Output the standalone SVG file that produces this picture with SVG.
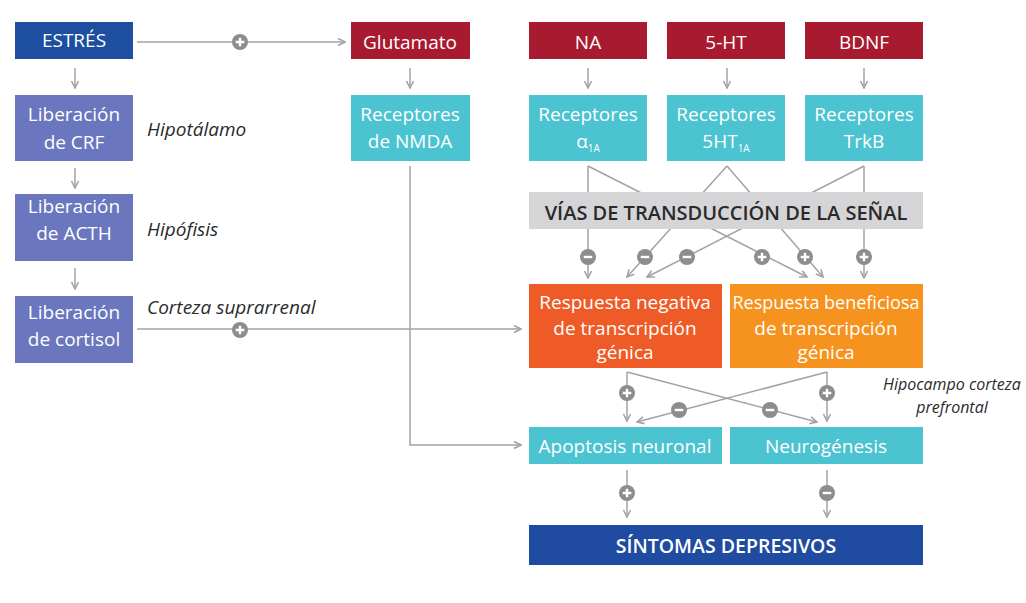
<svg xmlns="http://www.w3.org/2000/svg" xmlns:xlink="http://www.w3.org/1999/xlink" width="1026" height="603" viewBox="0 0 1026 603">
<style>
.t{font-family:"Open Sans","Liberation Sans",sans-serif;font-size:19px;font-weight:500;fill:#fff;text-anchor:middle}
.b{font-weight:600}
.lab{font-family:"Open Sans","Liberation Sans",sans-serif;font-size:19px;font-style:italic;fill:#2b2b2b}
.c{fill:none;stroke:#a3a3a5;stroke-width:1.5}
.a{marker-end:url(#ah)}
.blue{fill:#1d4ea0}
.purp{fill:#6a76bd}
.red{fill:#a81a30}
.cyan{fill:#4cc3d1}
</style>
<defs>
<marker id="ah" viewBox="0 0 10 10" refX="9" refY="5" markerWidth="10" markerHeight="10" orient="auto" markerUnits="userSpaceOnUse">
<path d="M2,1.5 L9,5 L2,8.5" fill="none" stroke="#a3a3a5" stroke-width="1.6"/>
</marker>
<g id="plus"><circle r="8" fill="#8d8d8f"/><path d="M-4.3,0H4.3M0,-4.3V4.3" stroke="#fff" stroke-width="2.4"/></g>
<g id="minus"><circle r="8" fill="#8d8d8f"/><path d="M-4.3,0H4.3" stroke="#fff" stroke-width="2.4"/></g>
</defs>
<rect width="1026" height="603" fill="#fff"/>

<g id="connectors">
<path class="c a" d="M137,42H345"/>
<path class="c a" d="M75,68V88"/>
<path class="c a" d="M75,168V188"/>
<path class="c a" d="M75,268V289"/>
<path class="c a" d="M137,329H521"/>
<path class="c a" d="M410,68V88"/>
<path class="c a" d="M588,68V88"/>
<path class="c a" d="M727,68V88"/>
<path class="c a" d="M864,68V88"/>
<path class="c a" d="M410,166V445H521"/>
<path class="c a" d="M588,166V278"/>
<path class="c a" d="M588,166L807,277"/>
<path class="c a" d="M727,166L627,277"/>
<path class="c a" d="M727,166L823,277"/>
<path class="c a" d="M864,166L647,277"/>
<path class="c a" d="M864,166V278"/>
<path class="c a" d="M627,372V421"/>
<path class="c a" d="M627,372L817,422"/>
<path class="c a" d="M827,372V421"/>
<path class="c a" d="M827,372L637,422"/>
<path class="c a" d="M627,470V517"/>
<path class="c a" d="M827,470V517"/>
</g>

<g id="via"><rect x="529" y="192" width="394" height="37" fill="#d5d5d7"/>
<text x="726" y="220" class="t b" style="fill:#2a2a2a;font-size:20px">VÍAS DE TRANSDUCCIÓN DE LA SEÑAL</text></g>

<g id="signs">
<use href="#plus" x="240" y="42"/>
<use href="#plus" x="240" y="330"/>
<use href="#minus" x="588" y="257"/>
<use href="#minus" x="645" y="257"/>
<use href="#minus" x="687" y="257"/>
<use href="#plus" x="762" y="257"/>
<use href="#plus" x="805" y="257"/>
<use href="#plus" x="864" y="257"/>
<use href="#plus" x="627" y="393"/>
<use href="#minus" x="679" y="410"/>
<use href="#minus" x="770" y="410"/>
<use href="#plus" x="827" y="393"/>
<use href="#plus" x="627" y="493"/>
<use href="#minus" x="827" y="493"/>
</g>

<g id="estres"><rect class="blue" x="15" y="22" width="118" height="37"/><text class="t" x="74" y="47">ESTRÉS</text></g>
<g id="crf"><rect class="purp" x="15" y="95" width="118" height="66"/><text class="t" x="74" y="121">Liberación</text><text class="t" x="74" y="149">de CRF</text></g>
<g id="acth"><rect class="purp" x="15" y="194" width="118" height="67"/><text class="t" x="74" y="213">Liberación</text><text class="t" x="74" y="240">de ACTH</text></g>
<g id="cortisol"><rect class="purp" x="15" y="296" width="118" height="67"/><text class="t" x="74" y="319">Liberación</text><text class="t" x="74" y="346">de cortisol</text></g>

<g id="labels">
<text class="lab" x="147" y="136">Hipotálamo</text>
<text class="lab" x="147" y="236">Hipófisis</text>
<text class="lab" x="147" y="314">Corteza suprarrenal</text>
<text class="lab" x="952" y="390" style="font-size:16px;text-anchor:middle">Hipocampo corteza</text>
<text class="lab" x="952" y="413" style="font-size:16px;text-anchor:middle">prefrontal</text>
</g>

<g id="glutamato"><rect class="red" x="351" y="22" width="119" height="37"/><text class="t" x="410" y="49">Glutamato</text></g>
<g id="nmda"><rect class="cyan" x="351" y="95" width="119" height="66"/><text class="t" x="410" y="121">Receptores</text><text class="t" x="410" y="148">de NMDA</text></g>

<g id="na"><rect class="red" x="529" y="22" width="118" height="37"/><text class="t" x="588" y="49">NA</text></g>
<g id="ht"><rect class="red" x="667" y="22" width="118" height="37"/><text class="t" x="726" y="49">5-HT</text></g>
<g id="bdnf"><rect class="red" x="805" y="22" width="118" height="37"/><text class="t" x="864" y="49">BDNF</text></g>

<g id="ra"><rect class="cyan" x="529" y="95" width="118" height="66"/><text class="t" x="588" y="121">Receptores</text><text class="t" x="588" y="148">α<tspan font-size="10" dy="4">1A</tspan></text></g>
<g id="rht"><rect class="cyan" x="667" y="95" width="118" height="66"/><text class="t" x="726" y="121">Receptores</text><text class="t" x="726" y="148">5HT<tspan font-size="10" dy="4">1A</tspan></text></g>
<g id="rtrkb"><rect class="cyan" x="805" y="95" width="118" height="66"/><text class="t" x="864" y="121">Receptores</text><text class="t" x="864" y="148">TrkB</text></g>

<g id="neg"><rect x="529" y="284" width="193" height="84" fill="#ef5b26"/><text class="t" x="625" y="309">Respuesta negativa</text><text class="t" x="625" y="335">de transcripción</text><text class="t" x="625" y="359">génica</text></g>
<g id="ben"><rect x="730" y="284" width="193" height="84" fill="#f6921e"/><text class="t" x="826" y="309" style="font-size:18px">Respuesta beneficiosa</text><text class="t" x="826" y="335">de transcripción</text><text class="t" x="826" y="359">génica</text></g>

<g id="apop"><rect class="cyan" x="529" y="427" width="193" height="37"/><text class="t" x="625" y="453">Apoptosis neuronal</text></g>
<g id="neuro"><rect class="cyan" x="730" y="427" width="193" height="37"/><text class="t" x="826" y="453">Neurogénesis</text></g>

<g id="sintomas"><rect x="529" y="525" width="394" height="40" fill="#1f4ba0"/><text class="t" x="726" y="553" style="font-size:19.5px;font-weight:600">SÍNTOMAS DEPRESIVOS</text></g>
</svg>
